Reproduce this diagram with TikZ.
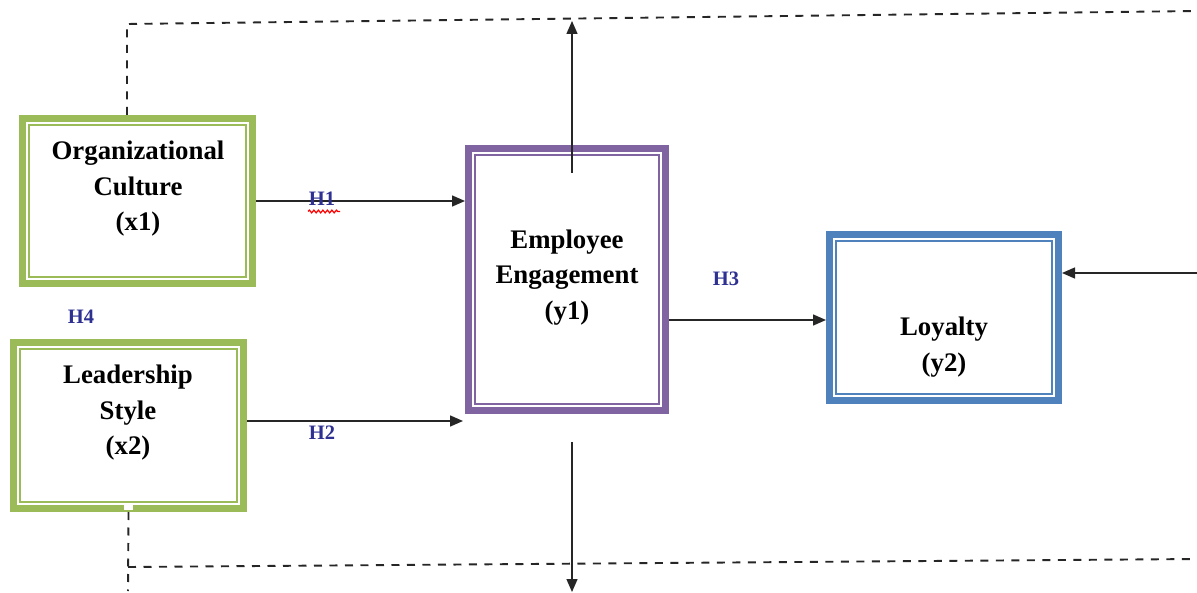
\documentclass[tikz,border=0pt]{standalone}
\usepackage{fontspec}
\setmainfont{Liberation Serif}
\usetikzlibrary{arrows.meta,decorations.pathmorphing}
\definecolor{ocgreen}{RGB}{155,187,89}
\definecolor{eepurple}{RGB}{128,100,162}
\definecolor{loblue}{RGB}{79,129,189}
\definecolor{hblue}{RGB}{46,49,146}
\tikzset{
  box/.style={draw=#1, line width=7pt, outer sep=3.5pt, inner sep=0pt, fill=white},
  inner/.style={draw=#1, line width=1.6pt},
  btext/.style={align=center, inner sep=0pt, font=\fontsize{26.8}{35.5}\selectfont\bfseries},
  hlab/.style={text=hblue, inner sep=0pt, font=\fontsize{20.5}{24}\selectfont\bfseries},
  arr/.style={-{Triangle[length=13pt,width=11pt]}, line width=1.4pt, draw=black!85},
  dline/.style={line width=1.9pt, dash pattern=on 8pt off 7.5pt, draw=black!85},
}
\newcommand\innerframe[2]{\draw[inner=#2] ([shift={(9.9pt,-9.9pt)}]#1.north west) rectangle ([shift={(-9.9pt,9.9pt)}]#1.south east);}
\begin{document}
\begin{tikzpicture}[x=1pt,y=-1pt]
\useasboundingbox (0,0) rectangle (1197,593);
\fill[white] (0,0) rectangle (1197,593);

% boxes
\node[box=ocgreen, minimum width=230pt, minimum height=165pt] (oc) at (137.5,201) {};
\node[box=ocgreen, minimum width=230pt, minimum height=166pt] (ls) at (128.5,425.5) {};
\node[box=eepurple, minimum width=197pt, minimum height=262pt] (ee) at (567,279.5) {};
\node[box=loblue, minimum width=229pt, minimum height=166pt] (lo) at (944,317.5) {};
\innerframe{oc}{ocgreen}
\innerframe{ls}{ocgreen}
\innerframe{ee}{eepurple}
\innerframe{lo}{loblue}

% box texts
\node[btext] (oct) at (138,189) {Organizational\\Culture\\(x1)};
\node[btext] (lst) at (128,413) {Leadership\\Style\\(x2)};
\node[btext] (eet) at (567,277.5) {Employee\\Engagement\\(y1)};
\node[btext] (lot) at (944,347) {Loyalty\\(y2)};

% free ends
\coordinate (tl) at (127,24);
\coordinate (tr) at (1197,11);
\coordinate (bl) at (128,567);
\coordinate (br) at (1197,559);
\coordinate (bend) at (128,591);
\coordinate (upS) at (572,173);
\coordinate (upE) at (572,21);
\coordinate (dnS) at (572,442);
\coordinate (dnE) at (572,592);
\coordinate (rin) at (1197,273);
\coordinate (h2e) at (463,421);
\coordinate (h3y) at (0,320);

% dashed frame
\draw[dline] (oc.north -| tl) -- (tl) -- (tr);
\fill[white] (124,505) rectangle (132.5,509.5);
\draw[dline] (ls.south) -- (bend);
\draw[dline] (bl) -- (br);

% arrows
\draw[arr] (oc.east) -- (oc.east -| ee.west);
\draw[arr] (ls.east |- h2e) -- (h2e);
\draw[arr] (ee.east |- h3y) -- (lo.west |- h3y);
\draw[arr] (rin) -- (lo.east |- rin);
\draw[arr] (upS) -- (upE);
\draw[arr] (dnS) -- (dnE);

% labels
\node[hlab] (h1) at (322,199) {H1};
\node[hlab] (h2) at (322,433) {H2};
\node[hlab] (h3) at (726,279) {H3};
\node[hlab] (h4) at (81,317) {H4};
\draw[red, line width=1.2pt, decorate, decoration={snake, amplitude=1.4pt, segment length=4.5pt}] (308,211.5) -- (340,211.5);
\end{tikzpicture}
\end{document}
